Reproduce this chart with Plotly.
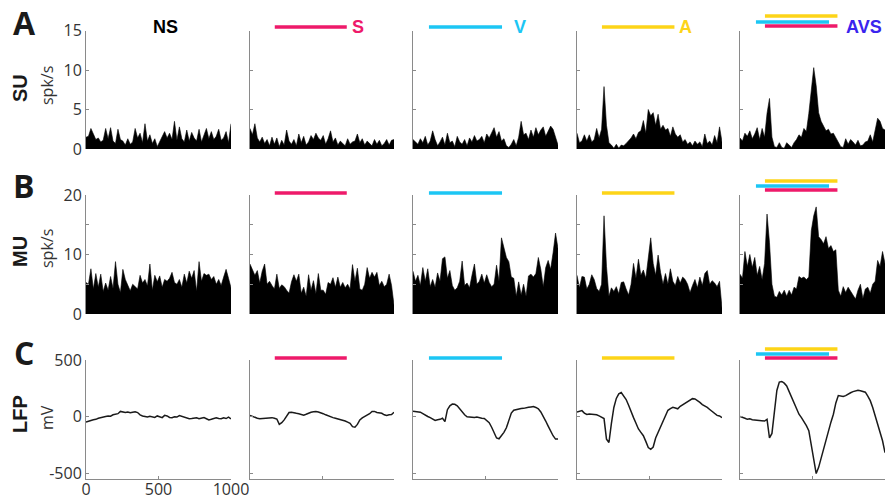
import numpy as np
import plotly.graph_objects as go
from plotly.subplots import make_subplots

# ---- conditions ----
conditions = ["NS", "S", "V", "A", "AVS"]
title_colors = ["#000000", "#EE1A6A", "#1CC6F4", "#FDD418", "#3A24EE"]

# stimulus windows (ms)
stim_windows = {"S": (172, 672), "V": (110, 614), "A": (172, 672)}
stim_colors = {"S": "#EE1A6A", "V": "#1CC6F4", "A": "#FDD418"}
# stimuli shown above each condition, top to bottom
cond_stimuli = {"NS": [], "S": ["S"], "V": ["V"], "A": ["A"], "AVS": ["A", "V", "S"]}

# ---- single-unit firing rate (spk/s) ----
su_ns = [1.5, 1.6, 2.6, 1.8, 1.2, 1.4, 0.9, 1.1, 2.6, 1.3, 2.7, 1.0, 0.7, 2.5, 1.2, 1.0, 0.5, 1.3, 0.6, 0.9,
         2.6, 1.4, 2.0, 0.8, 3.2, 1.0, 1.8, 0.7, 1.3, 0.3, 0.9, 1.5, 2.2, 1.4, 2.0, 1.2, 3.5, 1.1, 2.8, 1.3,
         0.9, 2.4, 1.0, 2.1, 1.4, 1.0, 2.5, 0.9, 1.8, 2.6, 1.3, 2.2, 1.2, 1.6, 2.5, 1.1, 1.4, 2.2, 0.8, 3.2]
su_s = [2.6, 1.8, 3.2, 1.4, 0.9, 1.5, 0.7, 1.2, 0.4, 1.5, 0.6, 1.4, 0.3, 1.1, 0.5, 2.4, 1.0, 0.6, 1.2, 0.4,
        1.9, 0.8, 1.6, 0.5, 0.9, 1.7, 1.2, 2.0, 1.4, 1.1, 1.7, 0.6, 1.3, 2.3, 0.9, 1.4, 0.5, 1.0, 0.7, 0.4,
        1.3, 0.6, 0.9, 1.0, 1.9, 0.8, 1.3, 0.5, 1.0, 0.7, 0.4, 1.2, 0.6, 1.1, 0.4, 0.7, 1.2, 0.5, 1.1, 1.2]
su_v = [1.2, 0.9, 0.6, 1.3, 0.8, 1.6, 0.5, 1.0, 2.3, 1.2, 0.4, 0.9, 1.5, 0.5, 2.0, 0.8, 1.0, 0.3, 1.6, 0.9,
        0.6, 1.2, 0.4, 1.4, 0.9, 1.7, 1.0, 1.2, 1.6, 0.8, 1.9, 1.4, 2.1, 2.7, 1.5, 2.2, 1.0, 1.3, 0.4, 0.2,
        0.6, 1.2, 0.4, 1.5, 3.5, 1.8, 2.0, 1.2, 2.4, 1.5, 2.7, 1.8, 2.4, 2.8, 1.6, 2.2, 2.9, 2.5, 1.4, 0.5]
su_a = [2.0, 0.8, 1.0, 1.8, 1.0, 1.8, 0.9, 1.2, 2.6, 1.4, 2.5, 7.9, 3.0, 0.8, 0.5, 0.1, 0.6, 0.1, 0.5, 0.4,
        0.7, 1.0, 1.4, 1.9, 1.3, 2.1, 2.3, 3.6, 2.0, 5.0, 4.2, 4.6, 3.0, 4.4, 2.5, 3.0, 2.4, 2.6, 1.6, 2.8,
        1.9, 1.5, 1.8, 0.9, 1.2, 0.6, 0.9, 0.4, 1.0, 0.6, 0.9, 0.3, 1.9, 0.7, 1.0, 0.5, 1.7, 0.8, 2.8, 0.9]
su_avs = [1.4, 1.0, 2.0, 1.6, 2.3, 1.3, 1.9, 2.7, 1.2, 2.6, 1.5, 4.5, 6.4, 1.5, 0.3, 0.2, 0.8, 0.2, 0.1, 0.8,
          0.5, 0.2, 0.8, 1.2, 1.8, 1.5, 2.6, 2.2, 4.5, 7.2, 10.3, 8.0, 4.6, 3.5, 2.8, 2.3, 2.5, 1.9, 2.0, 1.4,
          1.0, 0.3, 0.2, 1.3, 0.6, 1.2, 0.9, 0.5, 1.1, 0.4, 0.5, 0.9, 1.0, 1.8, 0.9, 2.2, 3.9, 3.5, 2.6, 2.4]

# ---- multi-unit firing rate (spk/s) ----
mu_ns = [5.3, 5.0, 7.6, 4.2, 6.8, 4.5, 6.7, 3.8, 5.2, 4.0, 6.3, 4.3, 8.8, 5.0, 3.6, 7.5, 5.8, 4.8, 3.9, 5.0,
         4.6, 4.2, 6.5, 5.2, 5.8, 4.7, 8.4, 4.0, 6.5, 5.4, 6.4, 4.5, 5.8, 5.5, 6.0, 7.0, 5.3, 5.0, 5.8, 4.5,
         6.7, 5.2, 7.2, 6.0, 7.3, 3.8, 8.8, 5.5, 6.8, 6.5, 6.7, 5.8, 6.3, 5.0, 5.8, 4.8, 6.2, 7.5, 6.0, 4.4]
mu_s = [8.4, 7.5, 6.5, 7.3, 5.2, 7.2, 8.4, 5.0, 5.5, 4.8, 4.2, 6.7, 4.3, 4.9, 4.6, 4.0, 3.5, 5.4, 6.6, 5.5,
        6.7, 3.5, 4.5, 3.0, 6.6, 4.0, 5.6, 3.4, 6.8, 4.0, 4.0, 3.3, 5.3, 5.0, 6.1, 4.5, 6.2, 4.5, 5.3, 4.4,
        5.0, 4.2, 8.3, 5.5, 7.7, 4.2, 4.0, 5.0, 7.8, 6.0, 7.0, 6.2, 7.0, 4.8, 5.5, 4.6, 5.0, 6.7, 4.8, 1.5]
mu_v = [7.2, 5.5, 6.5, 4.8, 7.8, 5.5, 7.6, 4.6, 5.8, 4.5, 6.9, 5.5, 9.3, 9.6, 6.0, 7.3, 4.8, 4.0, 4.4, 5.5,
        8.9, 4.8, 5.2, 4.4, 6.5, 8.4, 5.0, 5.5, 6.7, 5.2, 6.6, 5.3, 4.6, 5.0, 8.2, 5.5, 12.8, 11.2, 9.5, 8.8,
        6.2, 6.0, 3.0, 5.4, 3.2, 5.0, 3.0, 6.4, 6.7, 6.2, 6.8, 9.5, 7.5, 4.6, 7.8, 9.0, 7.5, 10.3, 13.6, 11.0]
mu_a = [6.5, 4.4, 6.3, 6.2, 4.2, 5.0, 6.6, 5.8, 4.3, 3.8, 5.0, 16.5, 8.0, 3.0, 4.4, 3.8, 4.6, 3.4, 5.3, 5.4,
        4.2, 3.2, 5.0, 8.5, 6.0, 9.2, 6.5, 7.4, 6.0, 10.0, 12.8, 8.5, 6.5, 9.9, 7.0, 5.0, 6.8, 5.0, 7.6, 5.5,
        4.8, 6.3, 5.2, 6.2, 5.8, 5.0, 3.6, 4.8, 5.8, 4.4, 6.2, 4.8, 6.8, 7.3, 5.0, 5.6, 5.2, 4.6, 5.5, 1.0]
mu_avs = [6.7, 6.0, 10.5, 8.0, 10.0, 7.8, 9.5, 6.5, 8.0, 5.8, 8.5, 16.8, 12.0, 5.0, 3.0, 2.8, 3.8, 3.2, 4.0, 3.0,
          4.0, 3.2, 4.5, 4.2, 6.3, 6.0, 6.2, 5.8, 6.2, 14.0, 16.5, 18.0, 13.0, 12.5, 11.8, 13.0, 11.0, 11.5, 10.5, 10.8,
          4.0, 3.0, 4.6, 3.6, 4.5, 3.8, 3.3, 2.5, 4.0, 5.0, 2.6, 4.2, 4.5, 3.5, 5.0, 5.5, 9.0, 8.0, 10.5, 8.5]

# ---- local field potential (mV) ----
lfp_ns = [-50, -40, -35, -28, -25, -15, -12, -5, 0, 5, 3, 15, 20, 25, 45, 38, 35, 40, 33, 38,
          42, 35, 15, 5, 0, -5, 2, -3, -8, 5, 0, -10, 10, 5, -8, -10, -2, -5, 8, 0,
          -5, -15, -20, -18, -15, -12, -20, -15, -10, -20, -30, -25, -20, -12, -18, -20, -12, -18, -6, -20]
lfp_s = [10, 0, -10, -15, -20, -18, -15, -18, -12, -10, -15, -22, -70, -55, -30, 0, 35, 38, 30, 28,
         25, 15, 12, 20, 32, 38, 42, 45, 40, 35, 25, 15, 5, -5, -10, -15, -20, -25, -30, -40,
         -50, -60, -90, -95, -70, -30, -12, 0, 10, 25, 45, 45, 35, 30, 28, 15, 10, 15, 18, 38]
lfp_v = [47, 45, 40, 38, 25, 10, 0, -10, -20, -35, -28, -25, -15, -45, 60, 95, 110, 108, 95, 65,
         40, 15, -2, -5, -3, -8, -5, -12, -15, -18, -35, -55, -95, -150, -190, -197, -170, -140, -100, -30,
         30, 55, 62, 65, 70, 72, 80, 82, 85, 88, 80, 68, 40, 5, -40, -85, -130, -170, -200, -200]
lfp_a = [40, 45, 52, 30, 18, 22, 18, 20, 15, 5, -10, -18, -200, -230, -60, 80, 160, 200, 212, 185,
         150, 100, 40, -10, -60, -110, -140, -170, -220, -275, -290, -270, -190, -140, -90, -40, 10, 55, 70, 82,
         75, 68, 90, 105, 115, 130, 148, 158, 155, 142, 125, 105, 95, 80, 62, 45, 35, 10, 5, -10]
lfp_avs = [0, -5, -15, -25, -20, -28, -30, -35, -32, -38, -40, -25, -190, -150, 50, 230, 305, 310, 295, 270,
           220, 170, 120, 60, 20, -10, -40, -80, -125, -250, -400, -505, -450, -370, -280, -190, -120, -50, 20, 120,
           185, 180, 178, 185, 200, 210, 220, 228, 232, 228, 220, 215, 180, 140, 80, 10, -70, -150, -215, -320]

su_rows = [su_ns, su_s, su_v, su_a, su_avs]
mu_rows = [mu_ns, mu_s, mu_v, mu_a, mu_avs]
lfp_rows = [lfp_ns, lfp_s, lfp_v, lfp_a, lfp_avs]

W, H = 885, 499
col_px = [(86, 231), (250, 394), (413, 558), (577, 722), (740, 885)]
row_px = [(30.5, 149), (195, 314), (360, 479)]

fig = make_subplots(rows=3, cols=5)

AX = "#8a8a8a"
TICKFONT = dict(family="Open Sans, sans-serif", size=16, color="#333333")

for r in range(3):
    for c in range(5):
        if r == 0:
            y = su_rows[c]
        elif r == 1:
            y = mu_rows[c]
        else:
            y = lfp_rows[c]
        t = np.linspace(0, 1000, len(y))
        if r < 2:
            fig.add_trace(go.Scatter(x=t, y=y, mode="lines", fill="tozeroy",
                                     fillcolor="black", line=dict(color="black", width=0.6),
                                     showlegend=False, hoverinfo="skip"), row=r + 1, col=c + 1)
        else:
            fig.add_trace(go.Scatter(x=t, y=y, mode="lines",
                                     line=dict(color="#1a1a1a", width=1.5),
                                     showlegend=False, hoverinfo="skip"), row=r + 1, col=c + 1)

# axis styling and placement
for r in range(3):
    for c in range(5):
        idx = r * 5 + c + 1
        xa = "xaxis" if idx == 1 else f"xaxis{idx}"
        ya = "yaxis" if idx == 1 else f"yaxis{idx}"
        x0, x1 = col_px[c]
        y0, y1 = row_px[r]
        xd = [x0 / W, x1 / W]
        yd = [1 - y1 / H, 1 - y0 / H]
        if r == 0:
            yr, tv, tt = [0, 15], [0, 5, 10, 15], ["0", "5", "10", "15"]
        elif r == 1:
            yr, tv, tt = [0, 20], [0, 5, 10, 15, 20], ["0", "", "10", "", "20"]
        else:
            yr, tv, tt = [-553, 500], [-500, 0, 500], ["-500", "0", "500"]
        fig.layout[ya].update(domain=yd, range=yr, showgrid=False, zeroline=False,
                              showline=True, linecolor=AX, linewidth=1, automargin=False,
                              ticks="inside", ticklen=3, tickcolor=AX,
                              tickvals=tv, ticktext=tt, showticklabels=(c == 0),
                              tickfont=TICKFONT, fixedrange=True)
        fig.layout[xa].update(domain=xd, range=[0, 1000], showgrid=False, zeroline=False,
                              showline=(r == 2), linecolor=AX, linewidth=1, automargin=False,
                              ticks="inside" if r == 2 else "", ticklen=3, tickcolor=AX,
                              tickvals=[0, 500, 1000], showticklabels=(r == 2 and c == 0),
                              ticklabelstandoff=-4,
                              tickfont=TICKFONT, fixedrange=True)

# stimulus bars above each panel (pixel offsets above the axes top)
single_off = [3.5, 2, 2]
avs_off = [[14.5, 8.5, 4.5], [14, 9, 5], [11, 6, 2]]
for r in range(3):
    top = row_px[r][0]
    for c, cond in enumerate(conditions):
        idx = r * 5 + c + 1
        xref = "x" if idx == 1 else f"x{idx}"
        stims = cond_stimuli[cond]
        offs = [single_off[r]] if len(stims) == 1 else avs_off[r]
        for s, off in zip(stims, offs):
            on, off_t = stim_windows[s]
            yy = 1 - (top - off) / H
            fig.add_shape(type="line", xref=xref, yref="paper", x0=on, x1=off_t, y0=yy, y1=yy,
                          line=dict(color=stim_colors[s], width=3.5), layer="above")

annotations = []
# column titles
title_x = [165, 358, 520, 685, 864]
for name, color, xp in zip(conditions, title_colors, title_x):
    annotations.append(dict(text=f"<b>{name}</b>", x=xp / W, y=1 - 27 / H, xref="paper", yref="paper",
                            showarrow=False, xanchor="center", yanchor="middle",
                            font=dict(family="Liberation Sans, Arial, sans-serif", size=18, color=color)))

# panel letters
for letter, yp in zip(["A", "B", "C"], [22, 186, 352]):
    annotations.append(dict(text=f"<b>{letter}</b>", x=24 / W, y=1 - yp / H, xref="paper", yref="paper",
                            showarrow=False, xanchor="center", yanchor="middle",
                            font=dict(family="Open Sans, sans-serif", size=32, color="#1a1a1a")))

# row measure labels
row_names = ["SU", "MU", "LFP"]
row_units = ["spk/s", "spk/s", "mV"]
name_y = [88, 252, 414]
unit_y = [86, 249, 418]
for nm, un, ny, uy in zip(row_names, row_units, name_y, unit_y):
    annotations.append(dict(text=f"<b>{nm}</b>", x=20 / W, y=1 - ny / H, xref="paper", yref="paper",
                            showarrow=False, textangle=-90, xanchor="center", yanchor="middle",
                            font=dict(family="Liberation Sans, Arial, sans-serif", size=20, color="#1a1a1a")))
    annotations.append(dict(text=un, x=47 / W, y=1 - uy / H, xref="paper", yref="paper",
                            showarrow=False, textangle=-90, xanchor="center", yanchor="middle",
                            font=dict(family="Open Sans, sans-serif", size=16, color="#333333")))

fig.update_layout(width=W, height=H, margin=dict(l=0, r=0, t=0, b=0, autoexpand=False),
                  paper_bgcolor="white", plot_bgcolor="white",
                  annotations=annotations, showlegend=False)

fig.write_html("out.html", config={"displayModeBar": False})
